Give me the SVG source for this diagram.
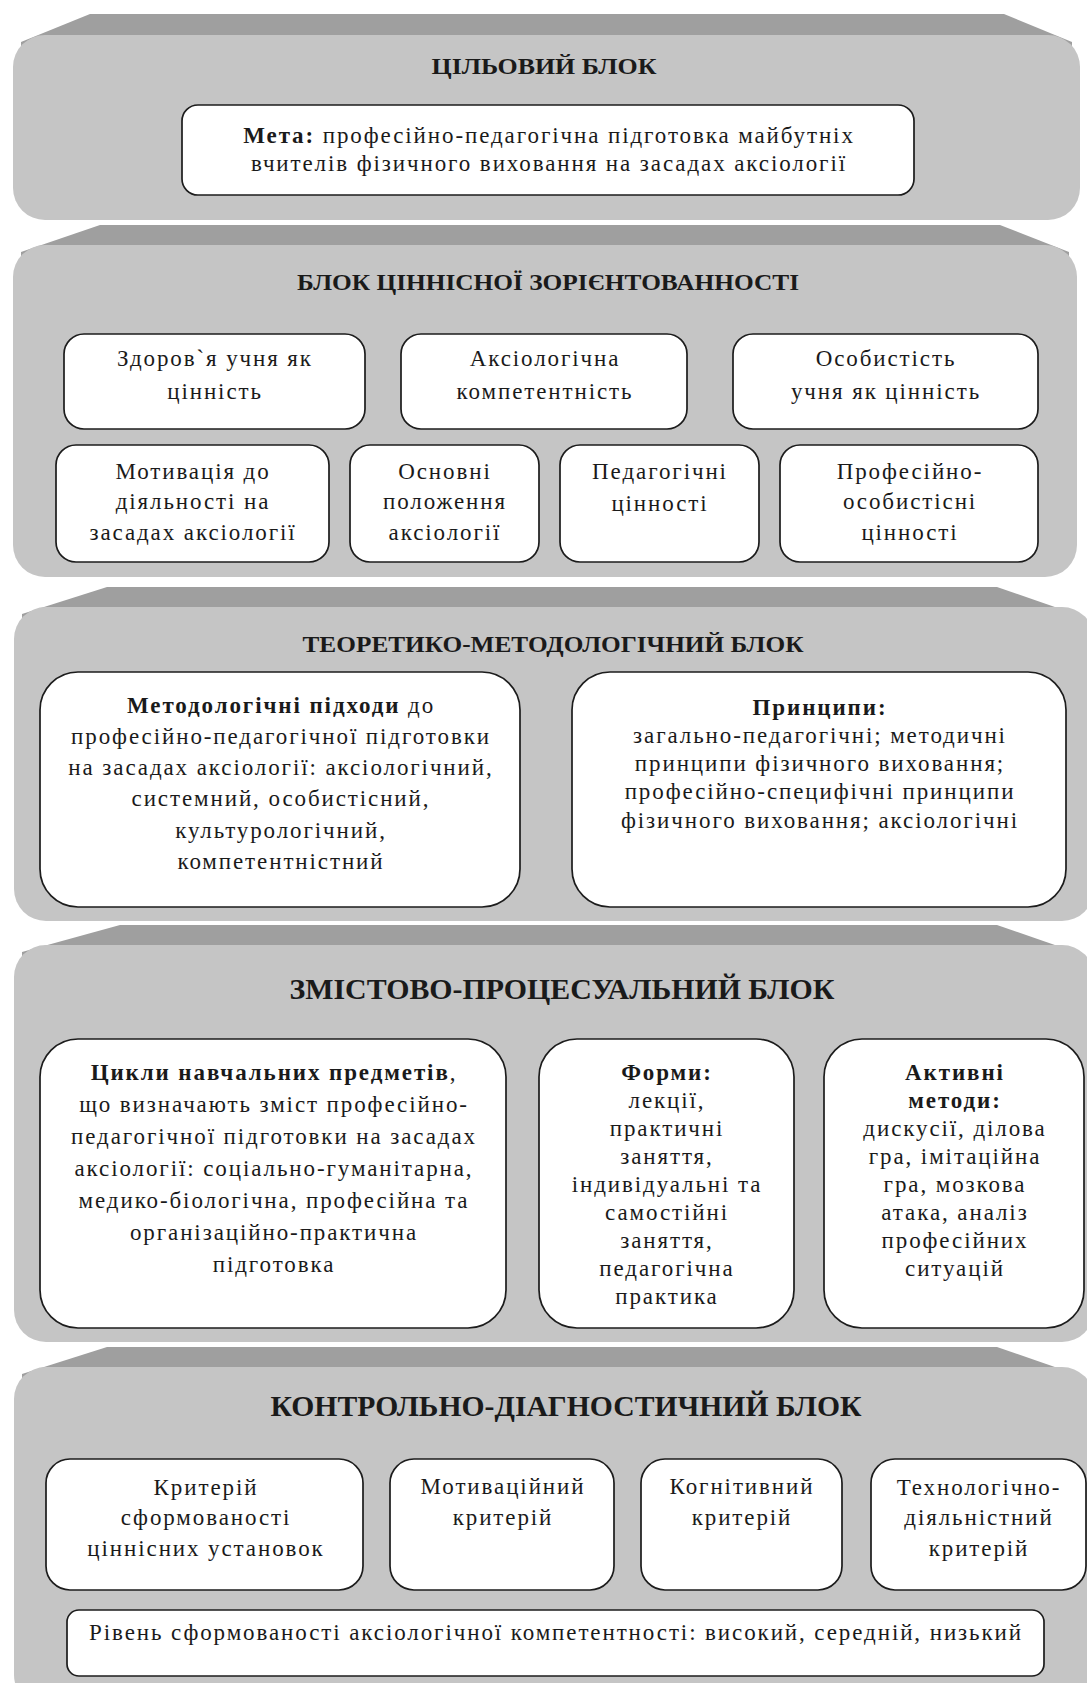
<svg xmlns="http://www.w3.org/2000/svg" width="1087" height="1683" viewBox="0 0 1087 1683">
<style>
.band{fill:#9f9f9f}
.body{fill:#c5c5c5}
.box{fill:#ffffff;stroke:#1c1c1c;stroke-width:1.7}
text{font-family:"Liberation Serif","Times New Roman",serif;fill:#1a1a1a;text-anchor:middle}
.t{font-size:23px;letter-spacing:1.9px}
.h{font-size:24px;font-weight:bold}
.hb{font-size:29px;font-weight:bold}
.b{font-weight:bold}
</style>
<rect width="1087" height="1683" fill="#ffffff"/>

<g id="block1">
  <path class="band" d="M90 14 L1004 14 L1072 42 L1072 70 L21 70 L21 42 Z"/>
  <rect class="body" x="13" y="35" width="1067" height="185" rx="32"/>
  <text class="h" x="544" y="74" textLength="225" lengthAdjust="spacingAndGlyphs">ЦІЛЬОВИЙ БЛОК</text>
  <g id="meta">
    <rect class="box" x="182" y="105" width="732" height="90" rx="16"/>
    <text class="t" x="549" y="143"><tspan class="b">Мета:</tspan> професійно-педагогічна підготовка майбутніх</text>
    <text class="t" x="549" y="171">вчителів фізичного виховання на засадах аксіології</text>
  </g>
</g>

<g id="block2">
  <path class="band" d="M100 225 L1000 225 L1069 252 L1069 280 L21 280 L21 252 Z"/>
  <rect class="body" x="13" y="245" width="1064" height="332" rx="32"/>
  <text class="h" x="548" y="290" textLength="502" lengthAdjust="spacingAndGlyphs">БЛОК ЦІННІСНОЇ ЗОРІЄНТОВАННОСТІ</text>
  <g id="health">
    <rect class="box" x="64" y="334" width="301" height="95" rx="20"/>
    <text class="t" x="215" y="366">Здоров`я учня як</text>
    <text class="t" x="215" y="399">цінність</text>
  </g>
  <g id="axcomp">
    <rect class="box" x="401" y="334" width="286" height="95" rx="20"/>
    <text class="t" x="545" y="366">Аксіологічна</text>
    <text class="t" x="545" y="399">компетентність</text>
  </g>
  <g id="personality">
    <rect class="box" x="733" y="334" width="305" height="95" rx="20"/>
    <text class="t" x="886" y="366">Особистість</text>
    <text class="t" x="886" y="399">учня як цінність</text>
  </g>
  <g id="motivation">
    <rect class="box" x="56" y="445" width="273" height="117" rx="20"/>
    <text class="t" x="193" y="479">Мотивація до</text>
    <text class="t" x="193" y="509">діяльності на</text>
    <text class="t" x="193" y="540">засадах аксіології</text>
  </g>
  <g id="basics">
    <rect class="box" x="350" y="445" width="189" height="117" rx="20"/>
    <text class="t" x="445" y="479">Основні</text>
    <text class="t" x="445" y="509">положення</text>
    <text class="t" x="445" y="540">аксіології</text>
  </g>
  <g id="pedvalues">
    <rect class="box" x="560" y="445" width="199" height="117" rx="20"/>
    <text class="t" x="660" y="479">Педагогічні</text>
    <text class="t" x="660" y="511">цінності</text>
  </g>
  <g id="profvalues">
    <rect class="box" x="780" y="445" width="258" height="117" rx="20"/>
    <text class="t" x="910" y="479">Професійно-</text>
    <text class="t" x="910" y="509">особистісні</text>
    <text class="t" x="910" y="540">цінності</text>
  </g>
</g>

<g id="block3">
  <path class="band" d="M107 587 L997 587 L1075 614 L1075 640 L22 640 L22 614 Z"/>
  <rect class="body" x="14" y="607" width="1080" height="314" rx="32"/>
  <text class="h" x="553" y="652" textLength="501" lengthAdjust="spacingAndGlyphs">ТЕОРЕТИКО-МЕТОДОЛОГІЧНИЙ БЛОК</text>
  <g id="approaches">
    <rect class="box" x="40" y="672" width="480" height="235" rx="38"/>
    <text class="t" x="281" y="713"><tspan class="b">Методологічні підходи</tspan> до</text>
    <text class="t" x="281" y="744">професійно-педагогічної підготовки</text>
    <text class="t" x="281" y="775">на засадах аксіології: аксіологічний,</text>
    <text class="t" x="281" y="806">системний, особистісний,</text>
    <text class="t" x="281" y="838">культурологічний,</text>
    <text class="t" x="281" y="869">компетентністний</text>
  </g>
  <g id="principles">
    <rect class="box" x="572" y="672" width="494" height="235" rx="38"/>
    <text class="t b" x="820" y="715">Принципи:</text>
    <text class="t" x="820" y="743">загально-педагогічні; методичні</text>
    <text class="t" x="820" y="771">принципи фізичного виховання;</text>
    <text class="t" x="820" y="799">професійно-специфічні принципи</text>
    <text class="t" x="820" y="828">фізичного виховання; аксіологічні</text>
  </g>
</g>

<g id="block4">
  <path class="band" d="M120 925 L997 925 L1075 952 L1075 980 L22 980 L22 952 Z"/>
  <rect class="body" x="14" y="945" width="1080" height="397" rx="32"/>
  <text class="hb" x="562" y="999" textLength="545" lengthAdjust="spacingAndGlyphs">ЗМІСТОВО-ПРОЦЕСУАЛЬНИЙ БЛОК</text>
  <g id="cycles">
    <rect class="box" x="40" y="1039" width="466" height="289" rx="38"/>
    <text class="t" x="274" y="1080"><tspan class="b">Цикли навчальних предметів</tspan>,</text>
    <text class="t" x="274" y="1112">що визначають зміст професійно-</text>
    <text class="t" x="274" y="1144">педагогічної підготовки на засадах</text>
    <text class="t" x="274" y="1176">аксіології: соціально-гуманітарна,</text>
    <text class="t" x="274" y="1208">медико-біологічна, професійна та</text>
    <text class="t" x="274" y="1240">організаційно-практична</text>
    <text class="t" x="274" y="1272">підготовка</text>
  </g>
  <g id="forms">
    <rect class="box" x="539" y="1039" width="255" height="289" rx="38"/>
    <text class="t b" x="667" y="1080">Форми:</text>
    <text class="t" x="667" y="1108">лекції,</text>
    <text class="t" x="667" y="1136">практичні</text>
    <text class="t" x="667" y="1164">заняття,</text>
    <text class="t" x="667" y="1192">індивідуальні та</text>
    <text class="t" x="667" y="1220">самостійні</text>
    <text class="t" x="667" y="1248">заняття,</text>
    <text class="t" x="667" y="1276">педагогічна</text>
    <text class="t" x="667" y="1304">практика</text>
  </g>
  <g id="methods">
    <rect class="box" x="824" y="1039" width="260" height="289" rx="38"/>
    <text class="t b" x="955" y="1080">Активні</text>
    <text class="t b" x="955" y="1108">методи:</text>
    <text class="t" x="955" y="1136">дискусії, ділова</text>
    <text class="t" x="955" y="1164">гра, імітаційна</text>
    <text class="t" x="955" y="1192">гра, мозкова</text>
    <text class="t" x="955" y="1220">атака, аналіз</text>
    <text class="t" x="955" y="1248">професійних</text>
    <text class="t" x="955" y="1276">ситуацій</text>
  </g>
</g>

<g id="block5">
  <path class="band" d="M107 1347 L997 1347 L1075 1374 L1075 1400 L22 1400 L22 1374 Z"/>
  <rect class="body" x="14" y="1367" width="1080" height="340" rx="32"/>
  <text class="hb" x="566" y="1416" textLength="591" lengthAdjust="spacingAndGlyphs">КОНТРОЛЬНО-ДІАГНОСТИЧНИЙ БЛОК</text>
  <g id="crit1">
    <rect class="box" x="46" y="1459" width="317" height="131" rx="24"/>
    <text class="t" x="206" y="1495">Критерій</text>
    <text class="t" x="206" y="1525">сформованості</text>
    <text class="t" x="206" y="1556">ціннісних установок</text>
  </g>
  <g id="crit2">
    <rect class="box" x="390" y="1459" width="224" height="131" rx="24"/>
    <text class="t" x="503" y="1494">Мотиваційний</text>
    <text class="t" x="503" y="1525">критерій</text>
  </g>
  <g id="crit3">
    <rect class="box" x="641" y="1459" width="201" height="131" rx="24"/>
    <text class="t" x="742" y="1494">Когнітивний</text>
    <text class="t" x="742" y="1525">критерій</text>
  </g>
  <g id="crit4">
    <rect class="box" x="871" y="1459" width="215" height="131" rx="24"/>
    <text class="t" x="979" y="1495">Технологічно-</text>
    <text class="t" x="979" y="1525">діяльністний</text>
    <text class="t" x="979" y="1556">критерій</text>
  </g>
  <g id="level">
    <rect class="box" x="67" y="1610" width="977" height="66" rx="12"/>
    <text class="t" x="556" y="1640">Рівень сформованості аксіологічної компетентності: високий, середній, низький</text>
  </g>
</g>

<g id="connectors"></g>
</svg>
